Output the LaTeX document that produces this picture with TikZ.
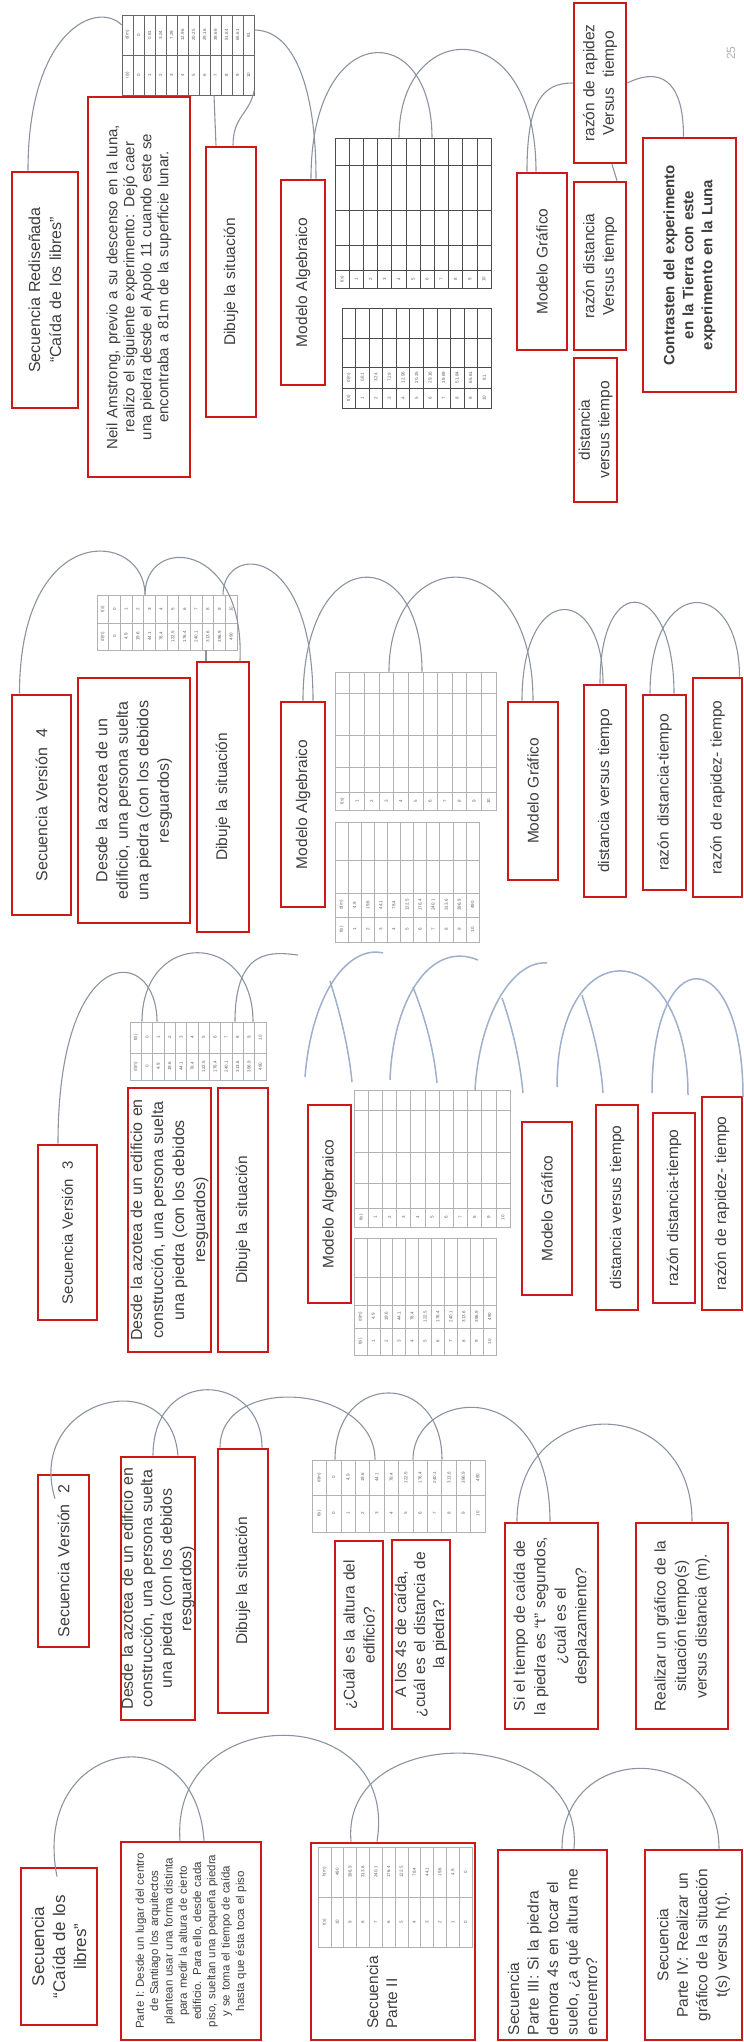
\documentclass[tikz,border=0pt]{standalone}
\usepackage{fontspec}
\setmainfont{Liberation Sans}

\definecolor{boxred}{RGB}{204,24,24}
\definecolor{txt}{RGB}{62,62,62}
\definecolor{loopgray}{RGB}{138,148,160}
\definecolor{loopblue}{RGB}{158,176,204}

\tikzset{
  redbox/.style={draw=boxred, line width=2.8pt, rotate=90, inner sep=0pt,
    align=center, text=txt, font=\fontsize{15.5}{19.5}\selectfont},
  tabfr/.style={draw=gray!60, line width=0.6pt, inner sep=0pt},
  tabline/.style={gray!60, line width=0.6pt},
  cell/.style={rotate=90, inner sep=0pt, text=gray!75!black,
    font=\fontsize{4.5}{5}\selectfont},
  loopline/.style={loopgray, line width=1.1pt},
  loopb/.style={loopblue, line width=1.5pt},
}

% box given by its corners on the page: [opts]{name}{x1}{y1}{x2}{y2}{text}
\newcommand\bx[7][]{%
  \pgfmathsetmacro\bxw{#6-#4}%
  \pgfmathsetmacro\bxh{#5-#3}%
  \pgfmathsetmacro\bxt{#6-#4-10}%
  \node[redbox,minimum width=\bxw pt,minimum height=\bxh pt,text width=\bxt pt,#1]
    (#2) at ({(#3+#5)/2},{(#4+#6)/2}) {#7};}

% table grid: [opts]{name}{x1}{y1}{x2}{y2}{columns}{row lines}
\newcommand\tabgrid[8][]{%
  \pgfmathsetmacro\tgw{#5-#3}%
  \pgfmathsetmacro\tgh{#6-#4}%
  \pgfmathsetmacro\tgc{(#5-#3)/#7}%
  \pgfmathtruncatemacro\tgn{#7-1}%
  \node[tabfr,#1,minimum width=\tgw pt,minimum height=\tgh pt] (#2) at ({(#3+#5)/2},{(#4+#6)/2}) {};
  \foreach \i in {1,...,\tgn} \draw[tabline,#1] ({#3+\i*\tgc},#4) -- ({#3+\i*\tgc},#6);
  \foreach \yy in {#8} \draw[tabline,#1] (#3,\yy) -- (#5,\yy);
}

% one row of table entries: {name}{x1}{cell width}{y}{entries}
\newcommand\cells[5]{%
  \foreach \v [count=\k] in {#5} \node[cell] (#1-\k) at ({#2+(\k-0.5)*#3},#4) {\v};}

\begin{document}
\begin{tikzpicture}[x=1pt,y=-1pt]
\useasboundingbox (0,0) rectangle (744,2042);

%% Secuencia Rediseñada
\bx[font=\fontsize{16}{21}\selectfont]{b1}{12}{172}{78}{408}{Secuencia Rediseñada\\“Caída de los libres”}
\bx[font=\fontsize{15}{17}\selectfont]{b2}{88}{97}{190}{477}{Neil Amstrong, previo a su descenso en la luna,\\realizo el siguiente experimento: Dejó caer\\una piedra desde el Apolo 11 cuando este se\\encontraba a 81m de la superficie lunar.}
\bx{b3}{206}{147}{256}{417}{Dibuje la situación}
\bx{b4}{281}{180}{325}{385}{Modelo Algebraico}
\bx{b5}{517}{173}{567}{350}{Modelo Gráfico}
\bx{b6}{574}{3}{626}{163}{razón de rapidez\\Versus~ tiempo}
\bx{b7}{574}{182}{626}{350}{razón distancia\\Versus tiempo}
\bx{b8}{574}{358}{617}{502}{distancia\\versus tiempo}
\bx[font=\bfseries\fontsize{15}{19}\selectfont]{b9}{643}{138}{736}{392}{Contrasten del experimento\\en la Tierra con este\\experimento en la Luna}

\tabgrid[draw=black!60]{t1}{122}{15}{254}{95}{12}{55}
\cells{t1u}{122}{11}{35}{d(m),0,0.81,3.24,7.29,12.96,20.25,29.16,39.69,51.84,65.61,81}
\cells{t1l}{122}{11}{75}{t(s),0,1,2,3,4,5,6,7,8,9,10}
\tabgrid[draw=black!70]{t1a}{335}{138}{491}{288}{11}{165,210,245,270}
\cells{t1an}{335}{14.18}{279}{t(s),1,2,3,4,5,6,7,8,9,10}
\tabgrid[draw=black!70]{t1b}{342}{308}{491}{408}{11}{338,367,388}
\cells{t1bd}{342}{13.545}{377.5}{d(m),0.81,3.24,7.29,12.96,20.25,29.16,39.69,51.84,65.61,81}
\cells{t1bt}{342}{13.545}{398}{t(s),1,2,3,4,5,6,7,8,9,10}

\draw[loopline] ([xshift=-17pt]b1.east) .. controls +(0,-140) and +(-25,-25) .. ([yshift=30pt]t1.west);
\draw[loopline] ([yshift=25pt]t1.east) .. controls +(40,0) and +(0,-90) .. ([xshift=13pt]b4.east);
\draw[loopline] ([xshift=-15pt]b3.east) -- ([xshift=26pt]t1.south);
\draw[loopline] ([xshift=2pt]b3.east) .. controls +(0,-30) and +(-5,25) .. ([yshift=-35pt]t1.east);
\draw[loopline] ([xshift=8pt]b4.east) .. controls +(0,-160) and +(0,-120) .. ([xshift=19pt]t1a.north);
\draw[loopline] ([xshift=-14pt]t1a.north) .. controls +(0,-120) and +(0,-160) .. ([xshift=-6pt]b5.east);
\draw[loopline] ([xshift=-15pt]b5.east) .. controls +(0,-70) and +(-30,0) .. (b6.north);
\draw[loopline] ([xshift=12pt]b6.west) -- ([xshift=17pt]b7.east);
\draw[loopline] (b6.south) .. controls +(30,-15) and +(0,-60) .. ([xshift=-6pt]b9.east);

\node[rotate=90, text=gray!60, font=\fontsize{12}{12}\selectfont] (pnum) at (731,53) {25};

%% Secuencia Version 4
\bx[font=\fontsize{16}{20}\selectfont]{c1}{12}{695}{71}{915}{Secuencia Versión~ 4}
\bx[font=\fontsize{16}{20.5}\selectfont]{c2}{78}{678}{190}{923}{Desde la azotea de un\\edificio, una persona suelta\\una piedra (con los debidos\\resguardos)}
\bx{c3}{197}{662}{249}{932}{Dibuje la situación}
\bx{c4}{281}{702}{325}{907}{Modelo Algebraico}
\bx{c5}{508}{702}{558}{880}{Modelo Gráfico}
\bx{c6}{584}{685}{626}{897}{distancia versus tiempo}
\bx{c7}{643}{695}{686}{890}{razón distancia-tiempo}
\bx{c8}{693}{678}{742}{897}{razón de rapidez- tiempo}

\tabgrid{t2}{97}{595}{237}{650}{12}{623}
\cells{t2u}{97}{11.667}{609}{t(s),0,1,2,3,4,5,6,7,8,9,10}
\cells{t2l}{97}{11.667}{636.5}{d(m),0,4.9,19.6,44.1,78.4,122.5,176.4,240.1,313.6,396.9,490}
\tabgrid{t2a}{335}{672}{496}{810}{11}{693,735,767,792}
\cells{t2an}{335}{14.636}{801}{t(s),1,2,3,4,5,6,7,8,9,10}
\tabgrid{t2b}{335}{822}{479}{942}{11}{860,893,917}
\cells{t2bd}{335}{13.09}{905}{d(m),4.9,19.6,44.1,78.4,122.5,176.4,240.1,313.6,396.9,490}
\cells{t2bt}{335}{13.09}{929.5}{t(s),1,2,3,4,5,6,7,8,9,10}

\draw[loopline] ([xshift=-22pt]c1.east) .. controls +(0,-175) and +(0,-65) .. ([xshift=-22pt]t2.north);
\draw[loopline] ([xshift=-22pt]t2.north) .. controls +(0,-60) and +(5,-120) .. ([xshift=17pt]c3.east);
\draw[loopline] ([xshift=56pt]t2.north) .. controls +(0,-50) and +(0,-160) .. ([xshift=10pt]c4.east);
\draw[loopline] ([xshift=-17pt]c3.east) -- ([xshift=39pt]t2.south);
\draw[loopline] (c4.east) .. controls +(0,-160) and +(0,-130) .. ([xshift=6.5pt]t2a.north);
\draw[loopline] ([xshift=-26.5pt]t2a.north) .. controls +(0,-130) and +(0,-160) .. (c5.east);
\draw[loopline] ([xshift=-11pt]c5.east) .. controls +(0,-120) and +(0,-100) .. ([xshift=-2pt]c6.east);
\draw[loopline] ([xshift=-5pt]c6.east) .. controls +(0,-115) and +(0,-115) .. ([xshift=9.5pt]c7.east);
\draw[loopline] ([xshift=-14.5pt]c7.east) .. controls +(0,-120) and +(0,-100) .. ([xshift=22pt]c8.east);

%% Secuencia Version 3
\bx[font=\fontsize{15}{19}\selectfont]{d1}{38}{1145}{97}{1320}{Secuencia Versión~ 3}
\bx[font=\fontsize{16}{21}\selectfont]{d2}{128}{1088}{211}{1352}{Desde la azotea de un edificio en\\construcción, una persona suelta\\una piedra (con los debidos\\resguardos)}
\bx{d3}{218}{1088}{268}{1352}{Dibuje la situación}
\bx{d4}{308}{1105}{351}{1303}{Modelo Algebraico}
\bx{d5}{522}{1122}{572}{1295}{Modelo Gráfico}
\bx{d6}{596}{1105}{638}{1310}{distancia versus tiempo}
\bx{d7}{653}{1113}{695}{1303}{razón distancia-tiempo}
\bx{d8}{702}{1097}{742}{1310}{razón de rapidez- tiempo}

\tabgrid{t3}{130}{1022}{266}{1080}{12}{1053}
\cells{t3u}{130}{11.333}{1037.5}{t(s),0,1,2,3,4,5,6,7,8,9,10}
\cells{t3l}{130}{11.333}{1066.5}{d(m),0,4.9,19.6,44.1,78.4,122.5,176.4,240.1,313.6,396.9,490}
\tabgrid{t3a}{354}{1090}{510}{1227}{11}{1110,1152,1183,1208}
\cells{t3an}{354}{14.18}{1217.5}{t(s),1,2,3,4,5,6,7,8,9,10}
\tabgrid{t3b}{354}{1238}{496}{1355}{11}{1277,1305,1328}
\cells{t3bd}{354}{12.91}{1316.5}{d(m),4.9,19.6,44.1,78.4,122.5,176.4,240.1,313.6,396.9,490}
\cells{t3bt}{354}{12.91}{1341.5}{t(s),1,2,3,4,5,6,7,8,9,10}

\coordinate (g3a) at (298,955);
\coordinate (g4a) at (305,1077); \coordinate (g4b) at (383,953);
\coordinate (g4c) at (352,1082); \coordinate (g4j) at (330,981);
\coordinate (g5a) at (390,1080); \coordinate (g5b) at (478,960);
\coordinate (g5c) at (437,1083); \coordinate (g5j) at (413,987);
\coordinate (g6a) at (475,1090); \coordinate (g6b) at (547,963);
\coordinate (g6c) at (523,1093); \coordinate (g6j) at (502,998);
\coordinate (g7a) at (557,1087); \coordinate (g7b) at (688,1095);
\coordinate (g7c) at (603,1093); \coordinate (g7j) at (582,995);
\coordinate (g8a) at (652,1093); \coordinate (g8b) at (743,1097);

\draw[loopline] ([xshift=-9.5pt]d1.east) .. controls +(0,-205) and +(0,-77) .. ([xshift=-41pt]t3.north);
\draw[loopline] ([xshift=-56pt]t3.north) .. controls +(0,-92) and +(0,-92) .. ([xshift=55pt]t3.north);
\draw[loopline] ([xshift=37pt]t3.north) .. controls +(0,-75) and +(-25,-3) .. (g3a);
\draw[loopb] (g4a) .. controls (312,990) and (350,945) .. (g4b);
\draw[loopb] (g4c) .. controls (348,1040) and (336,1000) .. (g4j);
\draw[loopb] (g5a) .. controls (393,1000) and (430,940) .. (g5b);
\draw[loopb] (g5c) .. controls (433,1040) and (420,1005) .. (g5j);
\draw[loopb] (g6a) .. controls (480,1010) and (515,960) .. (g6b);
\draw[loopb] (g6c) .. controls (519,1050) and (508,1015) .. (g6j);
\draw[loopb] (g7a) .. controls +(0,-160) and +(0,-160) .. (g7b);
\draw[loopb] (g7c) .. controls (600,1050) and (588,1015) .. (g7j);
\draw[loopb] (g8a) .. controls +(0,-155) and +(0,-155) .. (g8b);

%% Secuencia Version 2
\bx[font=\fontsize{16}{20}\selectfont]{e1}{38}{1475}{89}{1647}{Secuencia Versión~ 2}
\bx[font=\fontsize{16}{19.5}\selectfont]{e2}{121}{1457}{195}{1720}{Desde la azotea de un edificio en\\construcción, una persona suelta\\una piedra (con los debidos\\resguardos)}
\bx{e3}{218}{1449}{268}{1713}{Dibuje la situación}
\bx[font=\fontsize{15.5}{20}\selectfont]{e4}{335}{1541}{383}{1729}{¿Cuál es la altura del\\edificio?}
\bx[font=\fontsize{15.5}{19}\selectfont]{e5}{392}{1540}{450}{1729}{A los 4s de caída,\\¿cuál es el distancia de\\la piedra?}
\bx[font=\fontsize{15.5}{20.5}\selectfont]{e6}{505}{1523}{598}{1729}{Si el tiempo de caída de\\la piedra es “t” segundos,\\¿cuál es el\\desplazamiento?}
\bx[font=\fontsize{15.5}{20.5}\selectfont]{e7}{636}{1523}{728}{1729}{Realizar un gráfico de la\\situación tiempo(s)\\versus distancia (m).}

\tabgrid{t4}{312}{1460}{485}{1532}{12}{1495}
\cells{t4u}{312}{14.417}{1477.5}{d(m),0,4.9,19.6,44.1,78.4,122.5,176.4,240.1,313.6,396.9,490}
\cells{t4l}{312}{14.417}{1513.5}{t(s),0,1,2,3,4,5,6,7,8,9,10}

\draw[loopline] ([xshift=-8.5pt,yshift=-25pt]e1.east) .. controls (25,1400) and (170,1360) .. ([xshift=20pt]e2.east);
\draw[loopline] ([xshift=-5pt]e2.east) .. controls +(0,-90) and +(0,-75) .. ([xshift=19pt]e3.east);
\draw[loopline] ([xshift=-23pt]e3.east) .. controls +(0,-75) and +(0,-75) .. ([xshift=-23.5pt]t4.north);
\draw[loopline] ([xshift=-63.5pt]t4.north) .. controls +(0,-89) and +(0,-89) .. ([xshift=43.5pt]t4.north);
\draw[loopline] ([xshift=14.5pt]t4.north) .. controls +(0,-70) and +(0,-150) .. ([xshift=-1.5pt]e6.east);
\draw[loopline] ([xshift=-34.5pt]e6.east) .. controls +(0,-130) and +(0,-130) .. ([xshift=10pt]e7.east);

%% Secuencia Caida de los libres
\bx[font=\fontsize{17}{21}\selectfont]{f1}{21}{1868}{97}{2025}{Secuencia\\“Caída de los\\libres”}
\bx[font=\fontsize{11.5}{14.3}\selectfont]{f2}{121}{1842}{261}{2040}{Parte I: Desde un lugar del centro\\de Santiago los arquitectos\\plantean usar una forma distinta\\para medir la altura de cierto\\edificio. Para ello, desde cada\\piso, sueltan una pequeña piedra\\y se toma el tiempo de caída\\hasta que ésta toca el piso}
\bx{f3}{311}{1843}{475}{2040}{}
\node[rotate=90, anchor=west, align=left, text=txt, font=\fontsize{15.5}{19}\selectfont] (f3t) at (382,2032) {Secuencia\\Parte II};
\bx[align=left,font=\fontsize{15.5}{19.5}\selectfont]{f4}{498}{1850}{607}{2040}{Secuencia\\Parte III: Si la piedra\\demora 4s en tocar el\\suelo, ¿a qué altura me\\encuentro?}
\bx[font=\fontsize{15.5}{19.5}\selectfont]{f5}{645}{1850}{742}{2040}{Secuencia\\Parte IV: Realizar un\\gráfico de la situación\\t(s) versus h(t).}

\tabgrid{t5}{318}{1847}{472}{1947}{12}{1897}
\cells{t5u}{318}{12.833}{1872}{h(m),490,396.9,313.6,240.1,176.4,122.5,78.4,44.1,19.6,4.9,0}
\cells{t5l}{318}{12.833}{1922}{t(s),10,9,8,7,6,5,4,3,2,1,0}

\draw[loopline] ([xshift=-2pt,yshift=-10pt]f1.east) .. controls (30,1740) and (195,1710) .. ([xshift=13pt]f2.east);
\draw[loopline] ([xshift=-11pt]f2.east) .. controls (170,1700) and (400,1700) .. ([xshift=-16pt]f3.east);
\draw[loopline] ([xshift=-42pt]f3.east) .. controls (340,1720) and (585,1725) .. ([xshift=21.5pt]f4.east);
\draw[loopline] ([xshift=9.5pt]f4.east) .. controls +(0,-107) and +(0,-107) .. ([xshift=25.5pt]f5.east);
\end{tikzpicture}
\end{document}
